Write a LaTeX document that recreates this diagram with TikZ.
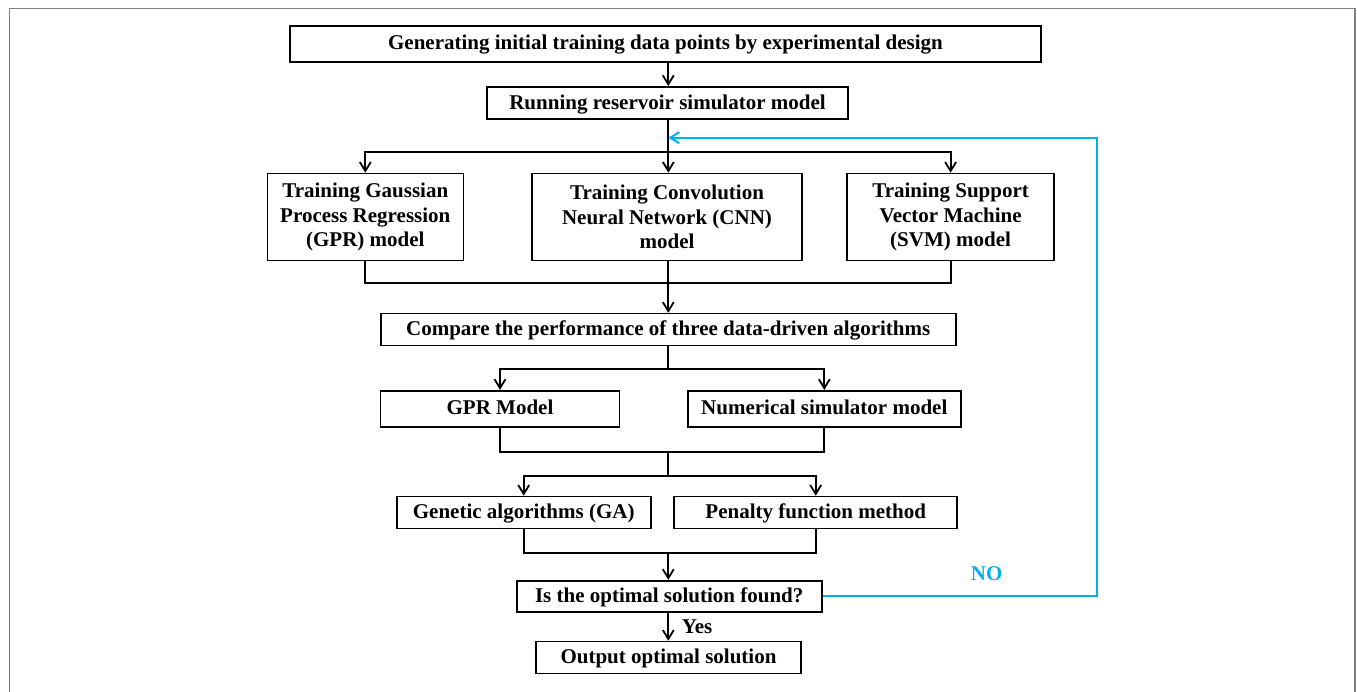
\documentclass[tikz,border=0pt]{standalone}
\usepackage{fontspec}
\setmainfont{Liberation Serif}
\usetikzlibrary{arrows.meta}
\definecolor{fbblue}{HTML}{00B0F0}
\definecolor{framegray}{HTML}{808080}
\tikzset{
  box/.style={draw=black, line width=1.6pt, inner sep=0pt, align=center,
    font=\fontsize{21}{24}\selectfont\bfseries},
  onebox/.style={box, text height=14.5pt, text depth=2pt},
  threebox/.style={box, font=\fontsize{21}{24.5}\selectfont\bfseries},
  conn/.style={draw=black, line width=1.8pt},
  arr/.style={conn, -{Straight Barb[length=9pt,width=11pt,line width=1.8pt]}},
  fbarr/.style={draw=fbblue, line width=2pt, -{Straight Barb[length=9pt,width=11pt,line width=2pt]}},
  lbl/.style={font=\fontsize{21}{24}\selectfont\bfseries, inner sep=0pt}
}
\begin{document}
\begin{tikzpicture}[x=1pt,y=-1pt]
\useasboundingbox (0,0) rectangle (1357,691);
\draw[framegray, line width=1.5pt] (9.5,700) -- (9.5,8.5) -- (1355,8.5) -- (1355,700);

\node[onebox, minimum width=751pt, minimum height=36pt] (top) at (665.5,43.7) {Generating initial training data points by experimental design};
\node[onebox, minimum width=361pt, minimum height=32pt] (run) at (667.5,102.8) {Running reservoir simulator model};
\node[threebox, minimum width=196pt, minimum height=87pt] (gprt) at (365.3,217) {Training Gaussian\\Process Regression\\(GPR) model};
\node[threebox, minimum width=270pt, minimum height=87pt] (cnn) at (667,217) {Training Convolution\\Neural Network (CNN)\\model};
\node[threebox, minimum width=207pt, minimum height=87pt] (svm) at (950.6,217) {Training Support\\Vector Machine\\(SVM) model};
\node[onebox, minimum width=575pt, minimum height=32pt] (cmp) at (668.2,329.6) {Compare the performance of three data-driven algorithms};
\node[onebox, minimum width=239pt, minimum height=36pt] (gprm) at (500,408.7) {GPR Model};
\node[onebox, minimum width=273pt, minimum height=36pt] (num) at (824.3,408.7) {Numerical simulator model};
\node[onebox, minimum width=254pt, minimum height=32pt] (ga) at (523.7,512.5) {Genetic algorithms (GA)};
\node[onebox, minimum width=283pt, minimum height=32pt] (pen) at (815.7,512.5) {Penalty function method};
\node[onebox, minimum width=305pt, minimum height=31pt] (opt) at (669.2,596.2) {Is the optimal solution found?};
\node[onebox, minimum width=265pt, minimum height=32pt] (out) at (668.5,657.5) {Output optimal solution};

\coordinate (j1) at (668.3,152);
\coordinate (j2) at (668.3,283);
\coordinate (j3) at (668.3,369);
\coordinate (j4) at (668.3,451.7);
\coordinate (j5) at (668.3,476);
\coordinate (j6) at (668.3,552.7);
\coordinate (fb) at (668.3,137.7);
\coordinate (c1) at (1096.5,596.2);

\draw[arr] (j1 |- top.south) -- (j1 |- run.north);
\draw[conn] (j1 |- run.south) -- (j1);
\draw[arr] (j1) -- (j1 |- cnn.north);
\draw[arr] (j1) -| (gprt.north);
\draw[arr] (j1) -| (svm.north);

\draw[conn] (gprt.south) |- (j2);
\draw[conn] (svm.south) |- (j2);
\draw[conn] (j2 |- cnn.south) -- (j2);
\draw[arr] (j2) -- (j2 |- cmp.north);

\draw[conn] (j3 |- cmp.south) -- (j3);
\draw[arr] (j3) -| (gprm.north);
\draw[arr] (j3) -| (num.north);

\draw[conn] (gprm.south) |- (j4);
\draw[conn] (num.south) |- (j4);
\draw[conn] (j4) -- (j5);
\draw[arr] (j5) -| (ga.north);
\draw[arr] (j5) -| (pen.north);

\draw[conn] (ga.south) |- (j6);
\draw[conn] (pen.south) |- (j6);
\draw[arr] (j6) -- (j6 |- opt.north);

\draw[arr] (opt.south -| j6) -- (out.north -| j6);
\node[lbl, anchor=west] (yes) at (681.7,627) {Yes};

\draw[fbarr] (opt.east) -- (c1) |- (fb);
\node[lbl, text=fbblue] (no) at (986.7,574) {NO};
\end{tikzpicture}
\end{document}
